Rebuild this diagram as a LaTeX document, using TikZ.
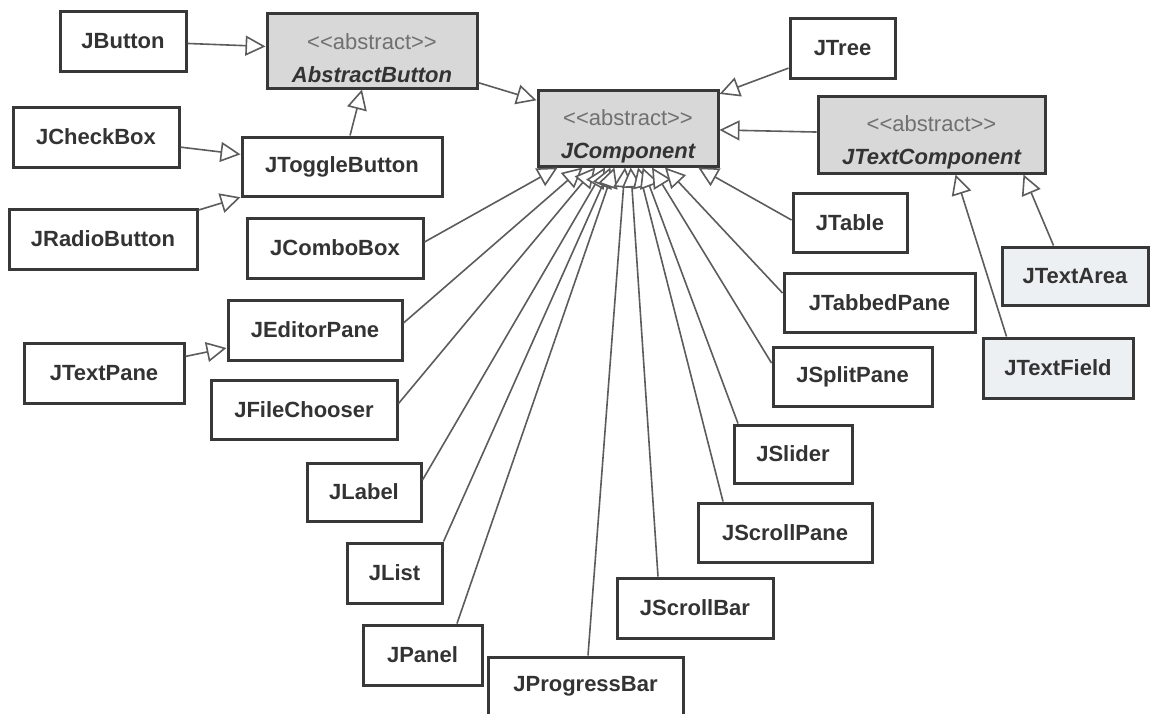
\documentclass[tikz,border=0pt]{standalone}
\usepackage{fontspec}
\setmainfont{Liberation Sans}
\usetikzlibrary{arrows.meta}
\definecolor{bordc}{HTML}{383838}
\definecolor{txtc}{HTML}{333333}
\definecolor{linec}{HTML}{5C5C5C}
\definecolor{absfill}{HTML}{D8D8D8}
\definecolor{absc}{HTML}{707070}
\definecolor{tintfill}{HTML}{EDF0F2}
\tikzset{
  cls/.style={draw=bordc, line width=3pt, fill=white, inner sep=0pt, text=txtc,
    font=\bfseries\fontsize{22}{26}\selectfont},
  absbox/.style={cls, fill=absfill, align=center, font=\fontsize{22}{33}\selectfont},
  inh/.style={draw=linec, line width=1.6pt,
    -{Triangle[fill=white, length=20pt, width=20pt]}},
}
\newcommand{\abstag}{\rule{0pt}{32pt}{\color{absc}\mdseries <{}<abstract>{}>}}
\begin{document}
\begin{tikzpicture}[x=1pt,y=-1pt]
\fill[white] (0,0) rectangle (1151,713);
\useasboundingbox (0,0) rectangle (1151,713);

% nodes
\node[cls, minimum width=126pt, minimum height=60pt] (jbutton) at (123,41) {JButton};
\node[absbox, minimum width=210pt, minimum height=75pt] (absbtn) at (372,50.5) {\abstag\\ \bfseries\itshape AbstractButton};
\node[cls, minimum width=166pt, minimum height=60pt] (jcheck) at (96,137) {JCheckBox};
\node[cls, minimum width=200pt, minimum height=59pt] (jtoggle) at (342,166.5) {JToggleButton};
\node[cls, minimum width=188pt, minimum height=60pt] (jradio) at (103,239) {JRadioButton};
\node[cls, minimum width=176pt, minimum height=60pt] (jcombo) at (335,248) {JComboBox};
\node[absbox, minimum width=180pt, minimum height=76pt] (jc) at (628,128) {\abstag\\ \bfseries\itshape JComponent};
\node[cls, minimum width=105pt, minimum height=60pt] (jtree) at (842.5,48) {JTree};
\node[absbox, minimum width=227pt, minimum height=77pt] (jtc) at (931.5,134.5) {\abstag\\ \bfseries\itshape JTextComponent};
\node[cls, minimum width=114pt, minimum height=59pt] (jtable) at (850,222.5) {JTable};
\node[cls, fill=tintfill, minimum width=146pt, minimum height=58pt] (jta) at (1075,276) {JTextArea};
\node[cls, fill=tintfill, minimum width=150pt, minimum height=60pt] (jtf) at (1058,368) {JTextField};
\node[cls, minimum width=191pt, minimum height=59pt] (jtabbed) at (879.5,302.5) {JTabbedPane};
\node[cls, minimum width=159pt, minimum height=59pt] (jsplit) at (852.5,376.5) {JSplitPane};
\node[cls, minimum width=118pt, minimum height=58pt] (jslider) at (793,454) {JSlider};
\node[cls, minimum width=174pt, minimum height=59pt] (jscrollpane) at (785,532.5) {JScrollPane};
\node[cls, minimum width=156pt, minimum height=60pt] (jscrollbar) at (695,608) {JScrollBar};
\node[cls, minimum width=195pt, minimum height=59pt] (jprogress) at (585.5,686.5) {JProgressBar};
\node[cls, minimum width=174pt, minimum height=60pt] (jeditor) at (315,330) {JEditorPane};
\node[cls, minimum width=160pt, minimum height=60pt] (jtextpane) at (104,373) {JTextPane};
\node[cls, minimum width=186pt, minimum height=59pt] (jfile) at (304,409.5) {JFileChooser};
\node[cls, minimum width=114pt, minimum height=58pt] (jlabel) at (364,492) {JLabel};
\node[cls, minimum width=95pt, minimum height=60pt] (jlist) at (394.5,573) {JList};
\node[cls, minimum width=119pt, minimum height=60pt] (jpanel) at (422.5,655) {JPanel};

% connectors (generalisation)
\draw[inh] (jbutton) -- (absbtn);
\draw[inh] (jtoggle) -- (absbtn);
\draw[inh] (jcheck) -- (jtoggle);
\draw[inh] (jradio) -- (jtoggle);
\draw[inh] (jtextpane) -- (jeditor);
\draw[inh] (absbtn) -- (jc);
\draw[inh] (jtree) -- (jc);
\draw[inh] (jtc) -- (jc);
\draw[inh] ([xshift=25pt]jtf.north west) -- ([xshift=139pt]jtc.south west);
\draw[inh] ([xshift=53pt]jta.north west) -- ([xshift=207pt]jtc.south west);

\draw[inh] ([yshift=6pt]jcombo.east) -- (jc);
\draw[inh] ([yshift=7pt]jeditor.east) -- (jc);
\draw[inh] ([yshift=6pt]jfile.east) -- (jc);
\draw[inh] ([yshift=12pt]jlabel.east) -- (jc);
\draw[inh] (jlist.north east) -- (jc);
\draw[inh] ([xshift=34.5pt]jpanel.north) -- (jc);
\draw[inh] ([xshift=2.5pt]jprogress.north) -- (jc);
\draw[inh] ([xshift=-37pt]jscrollbar.north) -- (jc);
\draw[inh] ([xshift=-62pt]jscrollpane.north) -- (jc);
\draw[inh] ([xshift=-55pt]jslider.north) -- (jc);
\draw[inh] ([yshift=13.5pt]jsplit.west) -- (jc);
\draw[inh] ([yshift=9.5pt]jtabbed.west) -- (jc);
\draw[inh] ([yshift=2.5pt]jtable.west) -- (jc);
\end{tikzpicture}
\end{document}
